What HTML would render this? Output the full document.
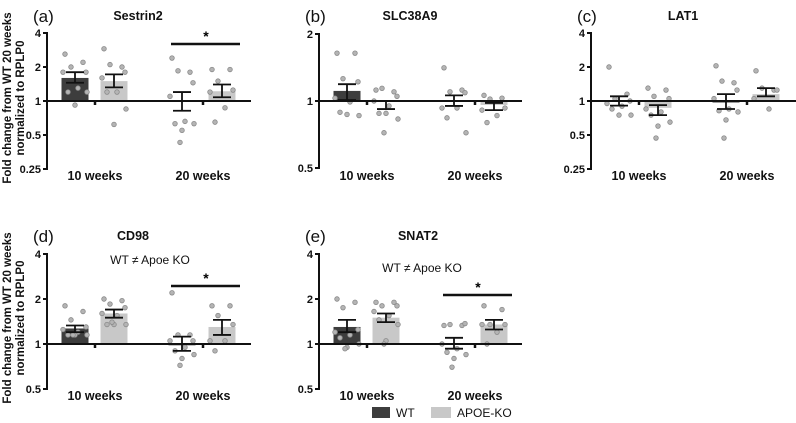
<!DOCTYPE html>
<html><head><meta charset="utf-8">
<style>
body{margin:0;background:#fff;}
svg{display:block;font-family:"Liberation Sans",Arial,sans-serif;}
.tk{font-size:11px;font-weight:bold;fill:#111;}
.cat{font-size:12.5px;font-weight:bold;fill:#111;}
.yt{font-size:11.5px;font-weight:bold;fill:#111;}
.ttl{font-size:12.5px;font-weight:bold;fill:#111;}
.pl{font-size:17px;fill:#111;}
</style></head>
<body>
<svg id="fig" width="796" height="423" viewBox="0 0 796 423" xmlns="http://www.w3.org/2000/svg">
<g><text class="yt" transform="translate(11,98) rotate(-90)" text-anchor="middle">Fold change from WT 20 weeks</text><text class="yt" transform="translate(24,98) rotate(-90)" text-anchor="middle">normalized to RPLP0</text></g>
<g><text class="yt" transform="translate(11,318) rotate(-90)" text-anchor="middle">Fold change from WT 20 weeks</text><text class="yt" transform="translate(24,318) rotate(-90)" text-anchor="middle">normalized to RPLP0</text></g>
<g>
<rect x="372" y="407" width="18" height="11" fill="#3d3d3d"/>
<text x="396" y="417" font-size="12" fill="#111">WT</text>
<rect x="431" y="407" width="20" height="11" fill="#c8c8c8"/>
<text x="457" y="417" font-size="12" fill="#111">APOE-KO</text>
</g>
</svg>
<script>
const groups = ["WT 10 weeks","APOE-KO 10 weeks","WT 20 weeks","APOE-KO 20 weeks"];
const categories = ["10 weeks","20 weeks"];
// panel a: Sestrin2
const aMeans = [1.6, 1.5, 1.0, 1.22];
const aErrLo = [1.45, 1.32, 0.82, 1.08];
const aErrHi = [1.8, 1.72, 1.2, 1.4];
const aPoints = [[2.6,2.2,2.0,1.8,1.8,1.3,1.2,1.2,0.92],[2.9,2.0,2.1,1.8,1.6,1.2,1.2,0.85,0.62],[2.4,1.8,1.85,1.45,1.1,0.66,0.63,0.63,0.55,0.43],[1.9,1.9,1.5,1.25,1.2,0.87,0.65]];
// panel b: SLC38A9
const bMeans = [1.11, 0.99, 1.0, 0.96];
const bErrLo = [1.01, 0.92, 0.95, 0.91];
const bErrHi = [1.19, 1.0, 1.06, 0.98];
const bPoints = [[1.64,1.64,1.26,1.22,1.03,0.99,0.89,0.86,0.87],[1.12,1.1,1.14,1.05,1.0,0.95,0.88,0.83,0.88,0.72],[1.41,1.12,1.1,1.09,0.93,0.93,0.84,0.72],[1.06,1.03,1.02,0.93,0.91,0.86,0.8]];
// panel c: LAT1
const cMeans = [1.0, 0.87, 0.97, 1.15];
const cErrLo = [0.91, 0.75, 0.85, 1.1];
const cErrHi = [1.1, 0.92, 1.15, 1.3];
const cPoints = [[2.0,1.15,1.05,1.0,0.95,0.9,0.85,0.75,0.75],[1.3,1.25,1.1,1.05,0.85,0.8,0.75,0.65,0.6,0.47],[2.05,1.45,1.5,1.25,1.05,0.85,0.82,0.8,0.68,0.47],[1.85,1.25,1.3,1.25,1.05,0.85]];
// panel d: CD98
const dMeans = [1.27, 1.6, 0.98, 1.3];
const dErrLo = [1.2, 1.5, 0.9, 1.15];
const dErrHi = [1.33, 1.7, 1.12, 1.45];
const dPoints = [[1.8,1.65,1.45,1.3,1.25,1.2,1.15,1.15,1.15,1.15],[2.0,1.95,1.85,1.75,1.6,1.55,1.35,1.35,1.35,1.4],[2.2,1.15,1.15,1.05,1.05,0.95,0.9,0.85,0.8,0.72],[1.8,1.8,1.55,1.35,1.05,1.05,0.9]];
// panel e: SNAT2
const eMeans = [1.3, 1.5, 1.0, 1.35];
const eErrLo = [1.2, 1.4, 0.93, 1.25];
const eErrHi = [1.45, 1.6, 1.1, 1.45];
const ePoints = [[2.0,1.9,1.75,1.25,1.2,1.15,1.1,1.0,0.95,0.93],[1.9,1.9,1.8,1.8,1.65,1.55,1.45,1.35,1.05,1.0],[1.33,1.33,1.35,1.37,1.0,0.93,0.88,0.85,0.8,0.7],[1.8,1.7,1.35,1.35,1.35,1.2,1.0]];
const ticksWide = ["0.25","0.5","1","2","4"];
const ticksB = ["0.5","1","2"];
const ticksDE = ["0.5","1","2","4"];

const NS="http://www.w3.org/2000/svg";
const svg=document.getElementById('fig');
function mk(tag,attrs,parent){const e=document.createElementNS(NS,tag);for(const k in attrs)e.setAttribute(k,attrs[k]);(parent||svg).appendChild(e);return e;}
const jit=[-10,8,-4,11,-12,3,-7,12,0,-2,6];

function panel(cfg){
  const g=mk('g',{});
  
  
  const Y=v=>cfg.y1-Math.log2(v)*cfg.ppd;
  const ax=cfg.ax;
  const t=mk('text',{x:cfg.lx,y:cfg.ty+2,class:'pl'},g);t.textContent='('+cfg.id+')';
  
  const tt=mk('text',{x:cfg.tx,y:cfg.ty,class:'ttl','text-anchor':'middle'},g);tt.textContent=cfg.title;
  
  const tv=cfg.ticks.map(Number);
  const top=Y(Math.max(...tv)),bot=Y(Math.min(...tv));
  const yl=mk('line',{x1:ax,y1:top-1,x2:ax,y2:bot+1,stroke:'#111','stroke-width':2},g);
  
  cfg.ticks.forEach(s=>{const y=Y(Number(s));
    mk('line',{x1:ax-4,y1:y,x2:ax,y2:y,stroke:'#111','stroke-width':2},g);
    const tl=mk('text',{x:ax-6,y:y+4,class:'tk','text-anchor':'end'},g);tl.textContent=s;
    });
  const off=[28,67,135,175];
  cfg.means.forEach((m,i)=>{
    const cx=ax+off[i];
    const y0=Y(1),ym=Y(m);
    const r=mk('rect',{x:cx-13.5,y:Math.min(y0,ym),width:27,height:Math.abs(y0-ym),fill:i%2?'#c8c8c8':'#3d3d3d'},g);
    
    cfg.pts[i].forEach((p,k)=>{const c=mk('circle',{cx:cx+jit[k%jit.length],cy:Y(p),r:2.3,fill:'#b4b4b4',stroke:'#8a8a8a','stroke-width':0.8},g);
      });
  });
  const bl=mk('line',{x1:ax,y1:Y(1),x2:cfg.bend,y2:Y(1),stroke:'#111','stroke-width':2},g);
  
  [48,156].forEach((o,j)=>{mk('line',{x1:ax+o,y1:Y(1),x2:ax+o,y2:Y(1)+4,stroke:'#111','stroke-width':2.5},g);
    const ct=mk('text',{x:ax+o,y:cfg.cy,class:'cat','text-anchor':'middle'},g);ct.textContent=categories[j];
    });
  cfg.means.forEach((m,i)=>{
    const cx=ax+off[i];const h=cfg.lo[i],u=cfg.hi[i];
    const e=mk('path',{d:`M${cx},${Y(h)}V${Y(u)}M${cx-9},${Y(h)}H${cx+9}M${cx-9},${Y(u)}H${cx+9}`,stroke:'#111','stroke-width':1.8,fill:'none'},g);
    
  });
  if(cfg.sig){const s=mk('line',{x1:ax+124,y1:cfg.sig,x2:ax+193,y2:cfg.sig,stroke:'#111','stroke-width':2.5},g);
    
    const st=mk('text',{x:ax+159,y:cfg.sig-3,'font-size':14,'font-weight':'bold','text-anchor':'middle'},g);st.textContent='*';
    }
  if(cfg.note){const n=mk('text',{x:ax+103,y:cfg.noteY,'font-size':12,'text-anchor':'middle',fill:'#111'},g);n.textContent='WT \u2260 Apoe KO';
    }
}
panel({id:'a',title:'Sestrin2',ax:47,lx:33,tx:138,ty:20,y1:101,ppd:34,ticks:ticksWide,means:aMeans,lo:aErrLo,hi:aErrHi,pts:aPoints,bend:251,cy:180,sig:44});
panel({id:'b',title:'SLC38A9',ax:319,lx:305,tx:410,ty:20,y1:101,ppd:67,ticks:ticksB,means:bMeans,lo:bErrLo,hi:bErrHi,pts:bPoints,bend:522,cy:180});
panel({id:'c',title:'LAT1',ax:591,lx:577,tx:683,ty:20,y1:101,ppd:34,ticks:ticksWide,means:cMeans,lo:cErrLo,hi:cErrHi,pts:cPoints,bend:796,cy:180});
panel({id:'d',title:'CD98',ax:47,lx:33,tx:133,ty:240,y1:344,ppd:45,ticks:ticksDE,means:dMeans,lo:dErrLo,hi:dErrHi,pts:dPoints,bend:251,cy:400,sig:286,note:true,noteY:264});
panel({id:'e',title:'SNAT2',ax:319,lx:305,tx:418,ty:240,y1:344,ppd:45,ticks:ticksDE,means:eMeans,lo:eErrLo,hi:eErrHi,pts:ePoints,bend:522,cy:400,sig:295,note:true,noteY:272});
</script>
</body></html>
